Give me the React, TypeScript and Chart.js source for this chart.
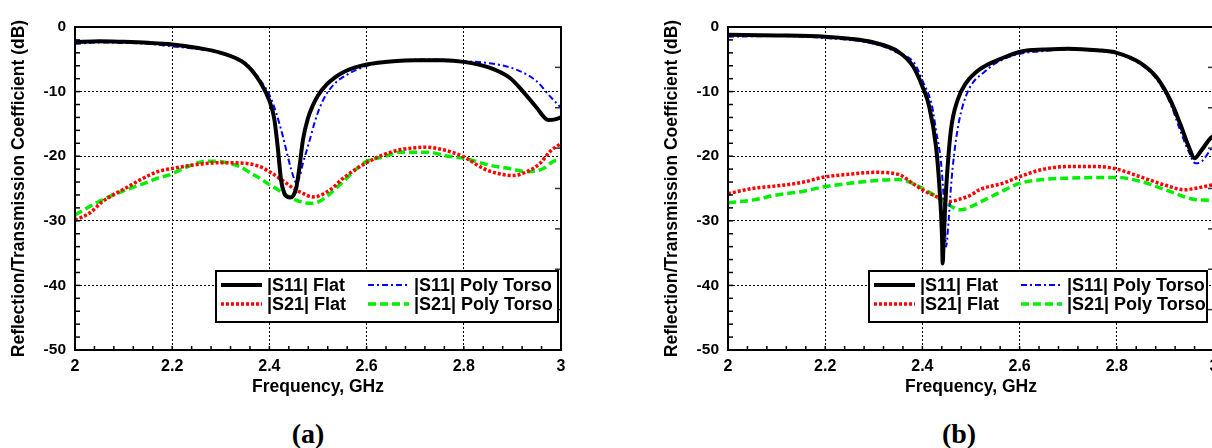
import React, { useEffect, useRef } from "react";
import { Chart, registerables } from "chart.js";

Chart.register(...registerables);

// ---------- axes ----------
const xTickValues = [2, 2.2, 2.4, 2.6, 2.8, 3];
const yTickValues = [0, -10, -20, -30, -40, -50];
const seriesLabels = ["|S11| Flat", "|S21| Flat", "|S11| Poly Torso", "|S21| Poly Torso"];

// ---------- chart (a) ----------
const aS11FlatGHz = [2.0, 2.05, 2.1, 2.15, 2.2, 2.25, 2.3, 2.35, 2.38, 2.4, 2.41, 2.417, 2.424, 2.431, 2.437, 2.443, 2.449, 2.455, 2.462, 2.469, 2.479, 2.489, 2.5, 2.518, 2.535, 2.552, 2.575, 2.6, 2.655, 2.7, 2.757, 2.8, 2.853, 2.895, 2.922, 2.95, 2.974, 2.988, 3.0];
const aS11FlatDb = [-2.35, -2.2, -2.3, -2.45, -2.7, -3.2, -4.0, -5.7, -8.4, -11.4, -14.2, -18.5, -23.7, -25.8, -26.3, -26.4, -26.1, -25.0, -21.6, -17.5, -14.2, -12.2, -10.6, -8.9, -7.8, -7.0, -6.3, -5.8, -5.3, -5.15, -5.15, -5.4, -6.3, -7.9, -10.0, -12.5, -14.4, -14.3, -14.0];

const aS21FlatGHz = [2.0, 2.03, 2.057, 2.085, 2.11, 2.133, 2.17, 2.2, 2.25, 2.3, 2.35, 2.38, 2.4, 2.43, 2.45, 2.47, 2.49, 2.5, 2.525, 2.552, 2.58, 2.6, 2.634, 2.668, 2.7, 2.72, 2.757, 2.8, 2.84, 2.866, 2.9, 2.93, 2.957, 2.977, 3.0];
const aS21FlatDb = [-29.9, -28.8, -27.0, -25.7, -24.7, -23.7, -22.4, -21.9, -21.3, -21.0, -21.1, -21.6, -22.4, -23.9, -25.0, -25.8, -26.3, -26.2, -25.2, -23.4, -21.9, -21.0, -19.8, -19.0, -18.7, -18.6, -19.0, -20.1, -21.9, -22.6, -23.0, -22.4, -21.1, -19.3, -18.0];

const aS11PolyGHz = [2.0, 2.05, 2.1, 2.15, 2.2, 2.25, 2.3, 2.35, 2.37, 2.39, 2.4, 2.414, 2.428, 2.438, 2.445, 2.452, 2.456, 2.462, 2.469, 2.476, 2.483, 2.493, 2.503, 2.518, 2.538, 2.559, 2.58, 2.6, 2.655, 2.7, 2.757, 2.8, 2.853, 2.908, 2.95, 2.977, 3.0];
const aS11PolyDb = [-2.6, -2.4, -2.45, -2.6, -3.0, -3.4, -4.0, -5.5, -7.1, -9.2, -10.5, -13.3, -17.0, -20.1, -22.1, -23.7, -24.2, -23.2, -21.1, -19.3, -17.5, -14.8, -12.6, -10.3, -8.5, -7.4, -6.6, -6.0, -5.3, -5.05, -5.05, -5.3, -5.6, -6.6, -8.4, -10.7, -12.5];

const aS21PolyGHz = [2.0, 2.023, 2.044, 2.064, 2.105, 2.147, 2.17, 2.194, 2.232, 2.27, 2.297, 2.318, 2.339, 2.359, 2.38, 2.4, 2.42, 2.441, 2.462, 2.483, 2.503, 2.525, 2.552, 2.58, 2.6, 2.634, 2.668, 2.7, 2.727, 2.768, 2.8, 2.853, 2.9, 2.93, 2.964, 2.984, 3.0];
const aS21PolyDb = [-29.1, -28.1, -27.2, -26.5, -25.2, -24.1, -23.4, -22.9, -21.6, -20.8, -20.8, -21.1, -21.6, -22.5, -23.4, -24.4, -25.3, -26.3, -27.0, -27.3, -27.0, -25.8, -23.9, -21.9, -20.8, -20.1, -19.4, -19.4, -19.4, -20.0, -20.3, -21.4, -22.0, -22.4, -21.9, -20.8, -20.5];

// ---------- chart (b) ----------
const bS11FlatGHz = [2.0, 2.1, 2.2, 2.25, 2.3, 2.35, 2.38, 2.4, 2.414, 2.428, 2.435, 2.4404, 2.4417, 2.4435, 2.4465, 2.45, 2.4588, 2.4725, 2.4896, 2.517, 2.565, 2.606, 2.65, 2.7, 2.76, 2.8, 2.849, 2.883, 2.91, 2.93, 2.948, 2.96, 2.972, 2.993, 3.0];
const bS11FlatDb = [-1.2, -1.3, -1.5, -1.8, -2.4, -3.8, -6.0, -9.2, -12.3, -18.5, -24.7, -32.5, -36.6, -33.5, -28.5, -23.7, -15.9, -11.3, -8.7, -6.6, -4.8, -3.75, -3.5, -3.35, -3.6, -4.0, -5.6, -7.9, -11.3, -14.9, -18.5, -20.3, -19.3, -17.2, -16.8];

const bS21FlatGHz = [2.0, 2.05, 2.1, 2.15, 2.2, 2.25, 2.3, 2.35, 2.38, 2.4, 2.43, 2.455, 2.483, 2.5, 2.517, 2.565, 2.606, 2.65, 2.7, 2.76, 2.8, 2.849, 2.9, 2.94, 2.96, 2.993, 3.0];
const bS21FlatDb = [-25.8, -25.0, -24.6, -24.1, -23.2, -22.8, -22.5, -22.8, -24.2, -25.2, -26.3, -27.0, -26.5, -26.0, -25.2, -24.2, -23.0, -22.0, -21.6, -21.6, -22.0, -23.2, -24.5, -25.2, -25.0, -24.5, -24.4];

const bS11PolyGHz = [2.0, 2.1, 2.2, 2.3, 2.35, 2.3836, 2.4007, 2.42, 2.428, 2.4383, 2.4449, 2.4486, 2.454, 2.4588, 2.4656, 2.4759, 2.4896, 2.503, 2.527, 2.551, 2.592, 2.65, 2.7, 2.76, 2.8, 2.849, 2.883, 2.91, 2.93, 2.948, 2.962, 2.975, 2.993, 3.0];
const bS11PolyDb = [-1.5, -1.4, -1.7, -2.6, -4.0, -5.6, -8.4, -12.3, -16.0, -21.0, -27.8, -34.0, -29.9, -24.7, -19.5, -14.4, -10.7, -8.7, -7.0, -5.6, -4.3, -3.7, -3.5, -3.7, -4.1, -5.8, -8.2, -11.8, -15.9, -19.3, -21.1, -20.8, -19.0, -18.4];

const bS21PolyGHz = [2.0, 2.05, 2.1, 2.15, 2.2, 2.25, 2.3, 2.35, 2.38, 2.4, 2.43, 2.45, 2.47, 2.48, 2.5, 2.527, 2.554, 2.6, 2.65, 2.7, 2.76, 2.8, 2.849, 2.9, 2.94, 2.96, 2.993, 3.0];
const bS21PolyDb = [-27.2, -26.8, -26.0, -25.5, -24.7, -24.2, -23.8, -23.6, -24.2, -25.0, -26.3, -27.3, -28.2, -28.3, -27.8, -26.8, -25.8, -24.2, -23.6, -23.4, -23.3, -23.3, -23.9, -25.2, -26.3, -26.7, -26.8, -26.8];

// ---------- styles ----------
const FONT = "'Liberation Sans', Arial, Helvetica, sans-serif";
const seriesStyles = [
  { borderColor: "#000000", borderWidth: 4, borderDash: [] as number[] },
  { borderColor: "#ff0000", borderWidth: 3.5, borderDash: [3, 2] },
  { borderColor: "#0000ff", borderWidth: 2, borderDash: [6, 3, 2, 3] },
  { borderColor: "#00ee00", borderWidth: 3.5, borderDash: [8, 4] },
];

function zip(xs: number[], ys: number[]) {
  return xs.map((x, i) => ({ x, y: ys[i] }));
}

const decorPlugin = {
  id: "decor",
  afterDatasetsDraw(chart: any) {
    const { ctx, chartArea } = chart;
    const { left, right, top, bottom } = chartArea;
    const xs = chart.scales.x;
    const ys = chart.scales.y;
    ctx.save();
    ctx.setLineDash([]);
    ctx.strokeStyle = "#000";
    ctx.lineWidth = 1.5;
    for (let v = 0; v >= -50; v -= 2) {
      const y = ys.getPixelForValue(v);
      ctx.beginPath();
      ctx.moveTo(left, y);
      ctx.lineTo(left + 5, y);
      ctx.stroke();
    }
    for (let i = 0; i <= 25; i++) {
      const x = xs.getPixelForValue(2 + i * 0.04);
      ctx.beginPath();
      ctx.moveTo(x, bottom);
      ctx.lineTo(x, bottom - 4);
      ctx.stroke();
    }
    ctx.strokeStyle = "#333";
    for (let k = 1; k < 8; k++) {
      const y = top + (k * (bottom - top)) / 8;
      ctx.beginPath();
      ctx.moveTo(right, y);
      ctx.lineTo(right - 6, y);
      ctx.stroke();
    }
    ctx.lineWidth = 2;
    ctx.strokeStyle = "#000";
    ctx.strokeRect(left, top, right - left, bottom - top);
    ctx.restore();
  },
  afterDraw(chart: any, _args: any, opts: any) {
    const { ctx, chartArea } = chart;
    const bx = chartArea.left + 141;
    const by = chartArea.top + 244;
    const bw = opts.legendWidth || 342;
    const bh = 51;
    ctx.save();
    ctx.fillStyle = "#fff";
    ctx.fillRect(bx, by, bw, bh);
    ctx.setLineDash([]);
    ctx.lineWidth = 2;
    ctx.strokeStyle = "#000";
    ctx.strokeRect(bx, by, bw, bh);
    ctx.font = `bold 18px ${FONT}`;
    ctx.textBaseline = "middle";
    ctx.textAlign = "left";
    chart.data.datasets.forEach((ds: any, i: number) => {
      const col = Math.floor(i / 2);
      const row = i % 2;
      const cy = by + 14 + row * 19;
      const sx = bx + 5 + col * 147;
      ctx.save();
      ctx.strokeStyle = ds.borderColor;
      ctx.lineWidth = ds.borderWidth;
      ctx.setLineDash(ds.borderDash || []);
      ctx.lineCap = "butt";
      ctx.beginPath();
      ctx.moveTo(sx, cy);
      ctx.lineTo(sx + 41, cy);
      ctx.stroke();
      ctx.restore();
      ctx.fillStyle = "#000";
      ctx.fillText(ds.label, sx + 46, cy + 1);
    });
    ctx.restore();
  },
};

type Series = { xs: number[]; ys: number[] }[];

function SParamChart({ series, left, legendWidth }: { series: Series; left: number; legendWidth: number }) {
  const ref = useRef<HTMLCanvasElement>(null);
  useEffect(() => {
    const datasets = series.map((s, i) => ({
      label: seriesLabels[i],
      data: zip(s.xs, s.ys),
      borderColor: seriesStyles[i].borderColor,
      borderWidth: seriesStyles[i].borderWidth,
      borderDash: seriesStyles[i].borderDash,
      pointRadius: 0,
      fill: false,
      cubicInterpolationMode: "monotone" as const,
    }));
    const chart = new Chart(ref.current!, {
      type: "line",
      data: { datasets },
      plugins: [decorPlugin as any],
      options: {
        animation: false,
        responsive: false,
        layout: { padding: { left: 0, top: 27, right: 39, bottom: 0 } },
        plugins: {
          legend: { display: false },
          tooltip: { enabled: false },
          decor: { legendWidth },
        } as any,
        scales: {
          x: {
            type: "linear",
            min: 2,
            max: 3,
            afterBuildTicks: (s: any) => {
              s.ticks = xTickValues.map((v) => ({ value: v }));
            },
            afterFit: (s: any) => {
              s.height = 50;
            },
            ticks: {
              autoSkip: false,
              maxRotation: 0,
              padding: 7,
              color: "#000",
              font: { family: FONT, size: 16, weight: "bold" },
              callback: (v: any) => String(Number(Number(v).toFixed(1))),
            },
            grid: { color: "#000", lineWidth: 1, drawTicks: false },
            border: { display: true, color: "#000", width: 2, dash: [2, 2] },
            title: {
              display: true,
              text: "Frequency, GHz",
              color: "#000",
              font: { family: FONT, size: 17.5, weight: "bold" },
              padding: { top: 0, bottom: 2 },
            },
          },
          y: {
            type: "linear",
            min: -50,
            max: 0,
            afterBuildTicks: (s: any) => {
              s.ticks = yTickValues.map((v) => ({ value: v }));
            },
            afterFit: (s: any) => {
              s.width = 75;
            },
            ticks: {
              padding: 9,
              color: "#000",
              font: { family: FONT, size: 15.5, weight: "bold" },
              callback: (v: any) => String(v),
            },
            grid: { color: "#000", lineWidth: 1, drawTicks: false },
            border: { display: true, color: "#000", width: 2, dash: [2, 2] },
            title: {
              display: true,
              text: "Reflection/Transmission Coefficient (dB)",
              color: "#000",
              font: { family: FONT, size: 17.5, weight: "bold" },
              padding: { top: 9, bottom: 0 },
            },
          },
        },
      },
    } as any);
    return () => chart.destroy();
  }, []);
  return (
    <canvas
      ref={ref}
      width={600}
      height={400}
      style={{ position: "absolute", left, top: 0, width: 600, height: 400 }}
    />
  );
}

const captionStyle: React.CSSProperties = {
  position: "absolute",
  top: 419,
  width: 100,
  textAlign: "center",
  fontFamily: "'Liberation Serif', 'Times New Roman', serif",
  fontWeight: "bold",
  fontSize: 28,
  lineHeight: "30px",
  color: "#000",
};

export default function App() {
  const seriesA: Series = [
    { xs: aS11FlatGHz, ys: aS11FlatDb },
    { xs: aS21FlatGHz, ys: aS21FlatDb },
    { xs: aS11PolyGHz, ys: aS11PolyDb },
    { xs: aS21PolyGHz, ys: aS21PolyDb },
  ];
  const seriesB: Series = [
    { xs: bS11FlatGHz, ys: bS11FlatDb },
    { xs: bS21FlatGHz, ys: bS21FlatDb },
    { xs: bS11PolyGHz, ys: bS11PolyDb },
    { xs: bS21PolyGHz, ys: bS21PolyDb },
  ];
  return (
    <div
      style={{
        position: "fixed",
        left: 0,
        top: 0,
        width: 1212,
        height: 448,
        overflow: "hidden",
        background: "#fff",
      }}
    >
      <SParamChart series={seriesA} left={0} legendWidth={342} />
      <SParamChart series={seriesB} left={653} legendWidth={338} />
      <div style={{ ...captionStyle, left: 258 }}>(a)</div>
      <div style={{ ...captionStyle, left: 909 }}>(b)</div>
    </div>
  );
}
